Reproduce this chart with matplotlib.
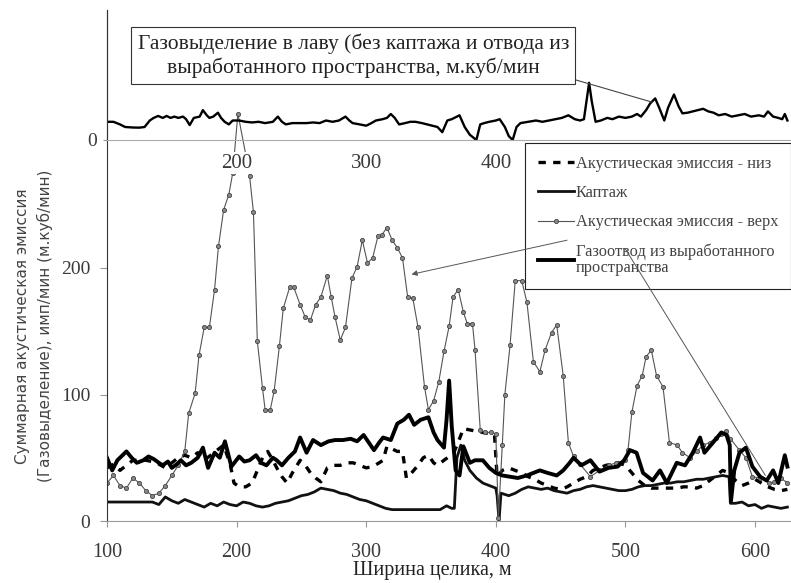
import matplotlib
matplotlib.use("Agg")
import matplotlib.pyplot as plt
import numpy as np

plt.rcParams['font.family'] = ['Liberation Serif', 'DejaVu Serif']

# --- acoustic emission, lower sensor (dashed)
x_low = [100,105,110,115,120,125,130,135,140,145,150,155,160,165,170,175,180,185,190,195,198,202,207,212,216,220,224,228,232,235,239,243,249,253,257,261,265,270,275,280,285,290,295,300,305,310,313,316,320,324,328,331,335,340,344,348,352,355,360,364,368,372,375,380,385,390,395,399,401,405,410,415,420,425,430,435,440,445,450,455,460,465,470,475,480,485,490,495,500,505,510,515,520,525,530,535,540,545,550,555,560,565,570,575,580,585,590,595,600,605,610,615,620,625]
y_low = [42,45,40,44,48,48,48,47,45,42,46,50,52,50,54,48,52,56,60,45,30,27,27,30,40,50,55,48,40,35,30,38,48,44,38,34,31,42,44,44,46,46,44,42,43,46,48,59,57,55,55,34,38,44,50,52,46,44,48,51,55,65,73,72,71,70,69,68,35,40,42,40,38,35,33,30,28,26,25,27,30,33,35,40,42,44,45,46,44,38,32,28,26,26,26,26,26,27,27,26,28,32,36,40,38,32,28,30,33,30,27,25,24,25]

# --- kaptazh
x_kap = [100,105,110,115,120,125,130,135,140,145,150,155,160,165,170,175,180,185,190,195,200,205,210,215,220,225,230,235,240,245,250,255,260,265,270,275,280,285,290,295,300,305,310,315,320,330,340,350,357,362,366,368,370,373,376,380,385,390,395,400,401,402.5,404,410,415,420,425,430,435,440,445,450,455,460,465,470,475,480,485,490,495,500,505,510,515,520,525,530,535,540,545,550,555,560,565,570,575,580,581,585,590,595,600,605,610,615,620,625]
y_kap = [15,15,15,15,15,15,15,15,13,19,16,14,17,15,13,11,14,12,15,13,12,15,14,12,11,12,14,15,16,18,20,21,23,26,25,24,22,21,19,17,16,14,12,10,9,9,9,9,9,12,10,10,50,60,48,40,34,30,28,26,20,0,22,20,22,25,27,26,25,26,24,23,22,24,25,27,28,27,26,25,24,24,25,27,28,28,29,30,30,31,31,32,33,33,34,35,36,35,14,14,15,12,13,10,12,11,10,11]

# --- acoustic emission, upper sensor (thin, markers)
x_up = [100,105,110,115,120,125,130,135,140,145,150,155,160,163,168,171,175,179,183,186,190,194,197,201,207,210,213,216,220,222,226,229,233,236,241,244,249,253,257,261,265,270,273,276,280,284,289,293,297,301,305,309,312,316,320,324,328,332,336,340,345,348,352,356,360,364,367,371,375,378,382,384,388,392,396,400,402,405,407,411,415,420,424,429,434,438,443,447,452,456,460,465,473,480,487,493,500,502,505,509,513,516,520,524,529,534,540,544,550,555,560,565,570,574,578,581,588,593,598,604,611,615,620,625]
y_up = [30,36,28,26,34,30,24,20,22,28,36,44,55,85,101,131,153,153,183,217,246,258,275,322,290,273,244,142,105,88,88,103,138,168,185,185,171,161,159,171,177,194,177,161,143,153,192,201,222,204,208,225,226,232,222,216,208,177,176,153,106,88,95,110,134,154,177,183,165,156,156,135,72,70,70,69,2,60,100,139,190,190,173,126,118,135,149,155,115,62,51,45,35,40,44,46,48,56,86,107,115,130,135,115,106,62,60,54,50,55,60,62,66,69,71,65,56,50,35,34,30,31,34,30]

# --- gas drainage from goaf (thick)
x_gas = [100,104,108,112,115,119,123,128,132,136,140,143,147,150,154,157,161,165,170,174,178,183,187,191,196,202,206,210,215,219,223,228,231,235,240,245,249,254,259,265,271,276,282,288,293,298,302,306,310,313,319,324,329,333,337,342,348,352,355,360,362,364,366,369,372,375,380,384,390,395,400,405,411,417,424,429,434,440,447,452,457,460,466,473,480,487,494,499,503.5,508.6,513.6,521,526.7,532,539.6,546,552,557.6,561,567.6,574,578,580.5,581.5,584,588,593,598,604,609,614,618,623,625]
y_gas = [50,40,48,52,55,50,46,48,51,49,46,44,47,42,45,48,44,46,50,58,42,54,50,63,43,51,47,48,52,46,44,50,48,44,50,55,66,54,64,60,63,64,64,65,63,68,62,56,62,66,64,77,80,84,76,80,82,70,64,58,80,111,75,40,36,59,46,48,48,42,38,36,35,34,36,38,40,38,36,40,46,50,44,48,39,42,43,48,56,54,38,32,40,30,46,44,54,66,54,62,70,68,60,16,40,54,58,43,35,32,40,30,52,43]

# --- gas emission into the face (top panel)
x_top = [100,105,110,114,120,125,129,133,136,139.5,143,146,149,152,155,158.7,161,163.8,167,171.5,174,177,179,182,185.6,188,190.8,194,197,202,207,212,217,222,228,231.8,235,238,243,248,254,259,264,269,274,279,284,287,289.5,295,300,304,307.5,312.6,316,319,322,325.4,330,334,338,343,347,351,355,358.7,362.6,366,370,372,376,380,385,388,391,395,400,403,407,410,413,416,419,425,431,436,441,446,451,456,461,465,468,470,472,474,477,481,486,490,495,500,505,509,512,516,519,523,526,530,533,537.5,541,544,548,552,556,560,564,568,572,577,582,587,592,597,603,607,610,614,618,621,623,625]
y_top = [14,14,12,10,9.6,9.5,10,15,17,18.5,17,18.5,17,18,17,18,16,11.5,17,18,23,19,17,18,21,17,14,12,15,15,14,13.5,14,13,14,18,14,12,13,13,13,13.5,13,15,14,15,18,15,13,12,11,13,15,16,17,20,17,12,13,14,14,13,12,11,10,6,15,16,18,19,10,4,0,12,13,14,15,16,10,3,0,10,13,14,15,14,15,16,17,19,16,15,16,30,44,30,14,15,17,16,18,17,18,20,18,23,28,32,25,15,25,35,26,20.5,21,22,23,24,22,21,19,20,18,19,20,18,19,18,22,18,17,16,20,15]

x_ticks = [100, 200, 300, 400, 500, 600]
y_ticks = [0, 100, 200]
top_ticks = [200, 300, 400]

legend_labels = ["Акустическая эмиссия - низ", "Каптаж",
                 "Акустическая эмиссия - верх",
                 "Газоотвод из выработанного\nпространства"]

W, H = 791, 583
fig = plt.figure(figsize=(W / 100, H / 100), dpi=100)

# main axes: x 100 at px 107, y 0 at px 521, top at px 10
ax = fig.add_axes([107 / W, (H - 521) / H, 684 / W, 511 / H])
ax.set_xlim(100, 100 + 684 / 1.296)
ax.set_ylim(0, 511 / 1.265)

l1, = ax.plot(x_low, y_low, color='black', lw=2.4, ls=(0, (2.2, 2.2)))
l2, = ax.plot(x_kap, y_kap, color='#111111', lw=2.0)
l3, = ax.plot(x_up, y_up, color='#555555', lw=0.8, marker='o', ms=3,
              mfc='#888888', mec='#444444', mew=0.6)
l4, = ax.plot(x_gas, y_gas, color='black', lw=2.8)

for s in ['top', 'right']:
    ax.spines[s].set_visible(False)
ax.spines['left'].set_color('#333333')
ax.spines['bottom'].set_color('#999999')
ax.set_xticks(x_ticks)
ax.set_yticks(y_ticks)
ax.tick_params(axis='x', direction='out', length=4, pad=12, labelsize=14.5,
               colors='#999999', labelcolor='#3a3a3a')
ax.tick_params(axis='y', direction='out', length=5, pad=7, labelsize=14,
               colors='#999999', labelcolor='#3a3a3a')

leg = ax.legend([l1, l2, l3, l4], legend_labels, loc='upper left',
                bbox_to_anchor=((525 - 107) / 684, (521 - 143) / 511),
                fontsize=11.8, frameon=True, fancybox=False, framealpha=1,
                edgecolor='#222222', handlelength=2.2, handletextpad=0.1,
                labelspacing=0.8, borderpad=0.8, borderaxespad=0)
leg.get_frame().set_linewidth(0.8)
for t in leg.get_texts():
    t.set_color('#444444')
    t.set_linespacing(1.0)

ax.annotate('', xy=(335, 195), xytext=(455, 222),
            arrowprops=dict(arrowstyle='-|>', color='#555555', lw=0.7,
                            mutation_scale=8, shrinkA=0, shrinkB=0),
            zorder=6)
ax.annotate('', xy=(608, 36), xytext=(500, 215),
            arrowprops=dict(arrowstyle='-', color='#555555', lw=0.7,
                            shrinkA=0, shrinkB=0),
            zorder=6)

# top panel: gas emission into the face
ax2 = fig.add_axes([107 / W, (H - 140) / H, 684 / W, 130 / H])
ax2.patch.set_alpha(0)
ax2.set_xlim(ax.get_xlim())
ax2.set_ylim(0, 100)
ax2.plot(x_top, y_top, color='black', lw=1.7)
for s in ['top', 'right']:
    ax2.spines[s].set_visible(False)
ax2.spines['left'].set_color('#333333')
ax2.spines['bottom'].set_color('#aaaaaa')
ax2.set_xticks(top_ticks)
ax2.set_yticks([0])
ax2.tick_params(axis='x', length=0, pad=10, labelsize=15, labelcolor='#3a3a3a')
ax2.tick_params(axis='y', length=3, pad=4, labelsize=14, colors='#999999',
                labelcolor='#3a3a3a')
for t in ax2.get_xticklabels():
    t.set_bbox(dict(facecolor='white', edgecolor='none', pad=1))

ax2.annotate("Газовыделение в лаву (без каптажа и отвода из\nвыработанного пространства, м.куб/мин",
             xy=(521, 29), xytext=(290, 65), textcoords='data',
             ha='center', va='center', fontsize=15.5, color='#222222',
             linespacing=1.25,
             bbox=dict(boxstyle='square,pad=0.3', fc='white', ec='#333333', lw=0.8),
             arrowprops=dict(arrowstyle='-', color='#444444', lw=0.8,
                             relpos=(1, 0), shrinkA=0, shrinkB=0))

fig.text(34 / W, (H - 326) / H,
         "Суммарная акустическая эмиссия\n(Газовыделение), имп/мин (м.куб/мин)",
         rotation=90, ha='center', va='center', fontsize=11,
         family=['DejaVu Sans'], color='#444444', linespacing=1.45,
         multialignment='center')
fig.text(432 / W, 12 / H, "Ширина целика, м", ha='center', va='center',
         fontsize=14.5, color='#222222')

fig.savefig("out.png", dpi=100)
